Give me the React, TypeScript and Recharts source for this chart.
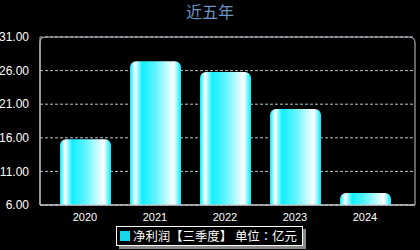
import React from 'react';
import { BarChart, Bar, XAxis, YAxis, CartesianGrid, Customized } from 'recharts';

const years = ['2020', '2021', '2022', '2023', '2024'];
const profit = [15.8, 27.4, 25.8, 20.3, 7.8];
const yTicks = [6, 11, 16, 21, 26, 31];

const W = 420;
const H = 250;
const X_H = 30;
const M = { top: 37, right: 5, bottom: 45 - X_H, left: 0 };
const Y_W = 40;

const data = years.map((year, i) => ({ year, value: profit[i] }));

const font = '"Liberation Sans", Arial, "Noto Sans CJK SC", sans-serif';

function PlotBorder() {
  const x0 = M.left + Y_W;
  const x1 = W - M.right;
  const y0 = M.top;
  const y1 = H - M.bottom - X_H;
  const r = 6;
  const d = `M${x0},${y1} L${x0},${y0 + r} Q${x0},${y0} ${x0 + r},${y0} L${x1 - r},${y0} Q${x1},${y0} ${x1},${y0 + r} L${x1},${y1} Z`;
  return <path d={d} fill="none" stroke="#c8c8c8" strokeWidth={1} />;
}

export default function App() {
  return (
    <div style={{ width: W, height: H, background: '#000', position: 'relative', fontFamily: font }}>
      <style>{`body{margin:0;background:#000}`}</style>
      <div
        style={{
          position: 'absolute',
          top: -1,
          width: W,
          textAlign: 'center',
          color: '#6f93c4',
          fontSize: 16,
          fontFamily: '"Noto Sans CJK SC", sans-serif',
        }}
      >
        近五年
      </div>
      <BarChart width={W} height={H} data={data} margin={M}>
        <defs>
          <linearGradient id="barGrad" x1="0" y1="0" x2="1" y2="0">
            <stop offset="0%" stopColor="#00eeff" />
            <stop offset="10%" stopColor="#ffffff" />
            <stop offset="24%" stopColor="#10f0ff" />
            <stop offset="50%" stopColor="#60f4ff" />
            <stop offset="86%" stopColor="#ffffff" />
            <stop offset="100%" stopColor="#00eeff" />
          </linearGradient>
        </defs>
        <CartesianGrid vertical={false} stroke="#b8c4d0" strokeDasharray="3 2" />
        <XAxis
          dataKey="year"
          height={X_H}
          padding={{ left: 10, right: 15 }}
          tickLine={false}
          axisLine={{ stroke: '#c8c8c8' }}
          tick={{ fill: '#fff', fontSize: 11, fontFamily: font }}
          tickMargin={2}
        />
        <YAxis
          width={Y_W}
          domain={[6, 31]}
          ticks={yTicks}
          interval={0}
          tickFormatter={(v: number) => v.toFixed(2)}
          tickLine={false}
          axisLine={{ stroke: '#c8c8c8' }}
          tick={{ fill: '#fff', fontSize: 12, fontFamily: font }}
          tickMargin={5}
        />
        <Bar dataKey="value" fill="url(#barGrad)" barSize={51} radius={[6, 6, 0, 0]} isAnimationActive={false} />
        <Customized component={<PlotBorder />} />
      </BarChart>
      <div
        style={{
          position: 'absolute',
          left: 116,
          top: 226,
          height: 18,
          padding: '0 5px 0 3px',
          border: '1px solid #fff',
          boxShadow: '3px 3px 0 #888',
          background: '#000',
          color: '#fff',
          fontSize: 12.4,
          display: 'flex',
          alignItems: 'center',
          fontFamily: '"Noto Sans CJK SC", sans-serif',
          whiteSpace: 'nowrap',
        }}
      >
        <span style={{ width: 10, height: 10, background: '#17d6ea', marginRight: 3, display: 'inline-block' }} />
        净利润【三季度】 单位<span style={{ fontFamily: '"Noto Sans CJK TC", sans-serif' }}>：</span>亿元
      </div>
    </div>
  );
}
